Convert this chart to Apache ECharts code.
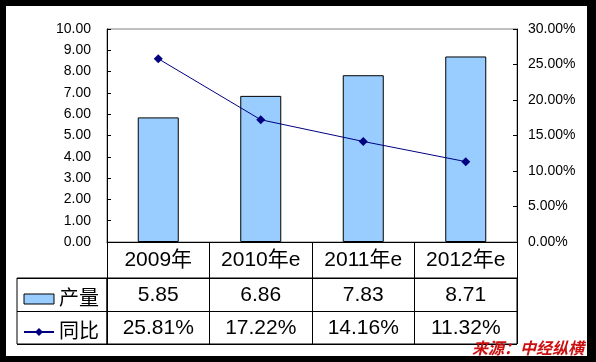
<!DOCTYPE html>
<html>
<head>
<meta charset="utf-8">
<script src="https://cdn.jsdelivr.net/npm/echarts@6/dist/echarts.min.js"></script>
<style>
html,body{margin:0;padding:0;background:#000;}
#wrap{position:relative;width:596px;height:362px;background:#000;overflow:hidden;}
#paper{position:absolute;left:6px;top:6px;width:581px;height:350px;background:#fff;}
#chart{position:absolute;left:0;top:0;width:596px;height:362px;}
</style>
</head>
<body>
<div id="wrap"><div id="paper"></div><div id="chart"></div></div>
<script>
const years = ['2009年', '2010年e', '2011年e', '2012年e'];
const output = [5.85, 6.86, 7.83, 8.71];
const growth = [25.81, 17.22, 14.16, 11.32];
const seriesNames = ['产量', '同比'];
const sourceText = '来源：中经纵横';

const FONT = '"Liberation Sans", Arial, "Noto Sans CJK SC", sans-serif';
const chart = echarts.init(document.getElementById('chart'), null, {renderer: 'canvas'});

const option = {
  backgroundColor: 'transparent',
  animation: false,
  textStyle: {fontFamily: FONT},
  title: {
    text: sourceText,
    left: 472, top: 340,
    padding: 0,
    textStyle: {color: '#CC1010', fontSize: 16, fontWeight: 'bold', fontStyle: 'italic', fontFamily: '"Noto Sans CJK SC", sans-serif'}
  },
  legend: {
    data: [
      {name: seriesNames[0], icon: 'rect', itemStyle: {color: '#99CCFF', borderColor: '#000', borderWidth: 1}},
      {name: seriesNames[1]}
    ],
    orient: 'vertical',
    left: 23, top: 289,
    padding: 0,
    itemWidth: 30, itemHeight: 10, itemGap: 13,
    selectedMode: false,
    textStyle: {fontSize: 20, color: '#000', fontFamily: FONT, lineHeight: 20}
  },
  grid: [
    {left: 107, top: 29, width: 410, height: 213, show: true, borderColor: '#808080', borderWidth: 1, containLabel: false},
    {left: 107, top: 278, width: 410, height: 66, show: true, borderColor: '#000', borderWidth: 1},
    {left: 17, top: 278, width: 90, height: 66, show: true, borderColor: '#000', borderWidth: 1}
  ],
  xAxis: [
    {
      type: 'category', gridIndex: 0, data: years, position: 'bottom',
      axisLine: {lineStyle: {color: '#000', width: 1}},
      axisTick: {show: true, inside: false, length: 36, lineStyle: {color: '#000'}},
      axisLabel: {color: '#000', fontSize: 21, margin: 18, verticalAlign: 'middle', fontFamily: FONT, interval: 0},
      splitLine: {show: false}
    },
    {
      type: 'category', gridIndex: 1, position: 'top',
      data: output.map(v => v.toFixed(2)),
      axisLine: {show: false}, axisTick: {show: false},
      axisLabel: {inside: true, color: '#000', fontSize: 21, margin: 17, verticalAlign: 'middle', fontFamily: FONT, interval: 0},
      splitLine: {show: true, lineStyle: {color: '#000', width: 1}}
    },
    {
      type: 'category', gridIndex: 1, position: 'bottom',
      data: growth.map(v => v.toFixed(2) + '%'),
      axisLine: {show: false}, axisTick: {show: false},
      axisLabel: {inside: true, color: '#000', fontSize: 21, margin: 16, verticalAlign: 'middle', fontFamily: FONT, interval: 0},
      splitLine: {show: false}
    },
    {type: 'value', gridIndex: 2, show: false}
  ],
  yAxis: [
    {
      type: 'value', gridIndex: 0, min: 0, max: 10, interval: 1, position: 'left',
      axisLine: {show: true, lineStyle: {color: '#000'}},
      axisTick: {show: true, inside: true, length: 4, lineStyle: {color: '#000'}},
      axisLabel: {color: '#000', fontSize: 14, margin: 16, formatter: v => v.toFixed(2), fontFamily: FONT},
      splitLine: {show: false}
    },
    {
      type: 'value', gridIndex: 0, min: 0, max: 30, interval: 5, position: 'right',
      axisLine: {show: true, lineStyle: {color: '#000'}},
      axisTick: {show: true, inside: true, length: 4, lineStyle: {color: '#000'}},
      axisLabel: {color: '#000', fontSize: 14, margin: 11, formatter: v => v.toFixed(2) + '%', fontFamily: FONT},
      splitLine: {show: false}
    },
    {
      type: 'category', gridIndex: 1, data: ['a', 'b'],
      axisLine: {show: false}, axisTick: {show: false}, axisLabel: {show: false},
      splitLine: {show: true, lineStyle: {color: '#000', width: 1}}
    },
    {
      type: 'category', gridIndex: 2, data: ['a', 'b'],
      axisLine: {show: false}, axisTick: {show: false}, axisLabel: {show: false},
      splitLine: {show: true, lineStyle: {color: '#000', width: 1}}
    }
  ],
  series: [
    {
      name: seriesNames[0], type: 'bar', xAxisIndex: 0, yAxisIndex: 0,
      data: output, barWidth: '40%',
      itemStyle: {color: '#99CCFF', borderColor: '#000', borderWidth: 1}
    },
    {
      name: seriesNames[1], type: 'line', xAxisIndex: 0, yAxisIndex: 1,
      data: growth, symbol: 'diamond', symbolSize: 9,
      itemStyle: {color: '#000080'},
      lineStyle: {color: '#000080', width: 1}
    }
  ]
};
chart.setOption(option);
</script>
</body>
</html>
